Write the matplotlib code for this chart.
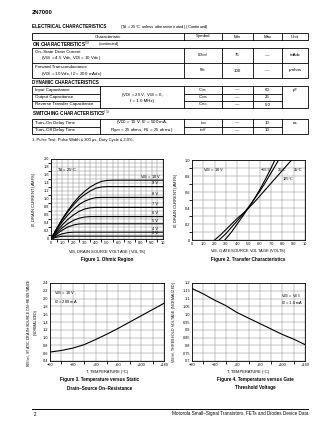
import numpy as np
import matplotlib.pyplot as plt

plt.rcParams['font.family'] = ['Liberation Sans', 'DejaVu Sans']
plt.rcParams['axes.unicode_minus'] = False

W, H = 336, 434

# ---- table data ----
col_heads = ['Characteristic', 'Symbol', 'Min', 'Max', 'Unit']
on_names = [('On–State Drain Current', '(V$_{GS}$ = 4.5 Vdc, V$_{DS}$ = 10 Vdc)'),
            ('Forward Transconductance', '(V$_{DS}$ = 10 Vdc, I$_D$ = 200 mAdc)')]
on_symbols = ['I$_{D(on)}$', 'g$_{fs}$']
on_min = ['75', '100']
on_max = ['—', '—']
on_units = ['mAdc', 'μmhos']

dyn_names = ['Input Capacitance', 'Output Capacitance', 'Reverse Transfer Capacitance']
dyn_cond = '(V$_{DS}$ = 25 V, V$_{GS}$ = 0,\nf = 1.0 MHz)'
dyn_symbols = ['C$_{iss}$', 'C$_{oss}$', 'C$_{rss}$']
dyn_min = ['—', '—', '—']
dyn_max = ['60', '25', '5.0']
dyn_unit = 'pF'

sw_names = ['Turn–On Delay Time', 'Turn–Off Delay Time']
sw_cond = '(V$_{DD}$ = 15 V, I$_D$ = 500 mA,\nR$_{gen}$ = 25 ohms, R$_L$ = 25 ohms)'
sw_symbols = ['t$_{on}$', 't$_{off}$']
sw_min = ['—', '—']
sw_max = ['10', '10']
sw_unit = 'ns'

# ---- figure 1: ohmic region ----
vds = [0, 0.5, 1, 1.5, 2, 2.5, 3, 3.5, 4, 4.5, 5, 5.5, 10]
id_10v = [0, .26, .50, .71, .90, 1.06, 1.19, 1.30, 1.38, 1.44, 1.465, 1.47, 1.47]
id_9v = [0, .25, .48, .68, .85, 1.0, 1.11, 1.20, 1.27, 1.30, 1.31, 1.31, 1.31]
id_8v = [0, .23, .43, .60, .74, .86, .945, 1.0, 1.035, 1.04, 1.04, 1.04, 1.04]
id_7v = [0, .19, .35, .49, .60, .69, .75, .78, .79, .79, .79, .79, .79]
id_6v = [0, .15, .28, .385, .465, .52, .55, .56, .56, .56, .56, .56, .56]
id_5v = [0, .12, .22, .30, .35, .376, .38, .38, .38, .38, .38, .38, .38]
id_4v = [0, .075, .13, .16, .17, .17, .17, .17, .17, .17, .17, .17, .17]
id_3v = [0, .046, .068, .07, .07, .07, .07, .07, .07, .07, .07, .07, .07]
vgs_labels = ['V$_{GS}$ = 10 V', '9 V', '8 V', '7 V', '6 V', '5 V', '4 V', '3 V']

# ---- figure 2: transfer characteristics ----
vgs_m55 = [2.9, 3.5, 4.0, 4.5, 5.0, 5.5, 6.0, 6.5, 7.0, 7.5]
id_m55 = [0, .10, .20, .30, .40, .51, .63, .76, .90, 1.05]
vgs_25 = [2.4, 3.0, 3.5, 4.0, 4.5, 5.0, 5.5, 6.0, 6.5, 7.0, 7.5, 8.0]
id_25 = [0, .08, .16, .24, .32, .41, .51, .61, .72, .84, .96, 1.08]
vgs_125 = [2.0, 2.5, 3.0, 3.5, 4.0, 4.5, 5.0, 5.5, 6.0, 6.5, 7.0, 7.5, 8.0, 8.5, 9.0]
id_125 = [0, .06, .13, .20, .27, .33, .40, .47, .55, .63, .71, .79, .87, .95, 1.03]

# ---- figures 3 and 4: temperature ----
temp = [-60, -40, -20, 0, 20, 40, 60, 80, 100, 120, 140]
rds_norm = [0.63, 0.67, 0.73, 0.82, 0.95, 1.09, 1.24, 1.40, 1.56, 1.72, 1.88]
vth_norm = [1.165, 1.13, 1.09, 1.055, 1.01, 0.975, 0.94, 0.905, 0.87, 0.84, 0.805]
temp_ticks = [-60, -20, 20, 60, 100, 140]
temp_labels = ['−60', '−20', '+20', '+60', '+100', '+140']

fig = plt.figure(figsize=(W / 100, H / 100), dpi=100)
fs = 3.2
lw_box = 0.6


def rect(x0, y0, x1, y1):
    return [x0 / W, 1 - y1 / H, (x1 - x0) / W, (y1 - y0) / H]


# page overlay in pixel units
pg = fig.add_axes([0, 0, 1, 1])
pg.set_xlim(0, W)
pg.set_ylim(H, 0)
pg.axis('off')


def box(x0, y0, x1, y1):
    pg.add_patch(plt.Rectangle((x0, y0), x1 - x0, y1 - y0, fill=False, lw=lw_box, color='black'))


def txt(x, y, s, ha='left', size=fs, **kw):
    pg.text(x, y, s, ha=ha, va='center', fontsize=size, **kw)


cols = [32, 184, 222, 253, 282, 308]
cx = [(cols[i] + cols[i + 1]) / 2 for i in range(5)]
cond_x = 100

txt(32, 13, '2N7000', size=4.2, weight='bold')
txt(32, 27, 'ELECTRICAL CHARACTERISTICS', size=3.3, weight='bold')
txt(120, 27, '(T$_A$ = 25°C unless otherwise noted) (Continued)', size=3.0)

# header row
box(cols[0], 33, cols[-1], 40)
for c in cols[1:-1]:
    pg.plot([c, c], [33, 40], color='black', lw=lw_box)
for i, h in enumerate(col_heads):
    txt(cx[i], 36.5, h, ha='center')

# ON characteristics
txt(32, 44, 'ON CHARACTERISTICS$^{(1)}$', size=3.3, weight='bold')
txt(99, 44, '(continued)', size=3.0)
box(cols[0], 48, cols[-1], 78)
pg.plot([cols[0], cols[-1]], [63, 63], color='black', lw=lw_box)
for c in cols[1:-1]:
    pg.plot([c, c], [48, 78], color='black', lw=lw_box)
for i, (y0, y1) in enumerate([(48, 63), (63, 78)]):
    txt(35, y0 + 4, on_names[i][0])
    txt(41, y0 + 10.5, on_names[i][1])
    ym = (y0 + y1) / 2
    txt(cx[1], ym, on_symbols[i], ha='center')
    txt(cx[2], ym, on_min[i], ha='center')
    txt(cx[3], ym, on_max[i], ha='center')
    txt(cx[4], ym, on_units[i], ha='center')

# dynamic
txt(32, 82, 'DYNAMIC CHARACTERISTICS', size=3.3, weight='bold')
dy = [86, 93.5, 101, 108]
box(cols[0], dy[0], cols[-1], dy[-1])
for c in [cond_x] + cols[1:-1]:
    pg.plot([c, c], [dy[0], dy[-1]], color='black', lw=lw_box)
for y in dy[1:-1]:
    pg.plot([cols[0], cond_x], [y, y], color='black', lw=lw_box)
    pg.plot([cols[1], cols[4]], [y, y], color='black', lw=lw_box)
for i in range(3):
    ym = (dy[i] + dy[i + 1]) / 2
    txt(35, ym, dyn_names[i])
    txt(cx[1], ym, dyn_symbols[i], ha='center')
    txt(cx[2], ym, dyn_min[i], ha='center')
    txt(cx[3], ym, dyn_max[i], ha='center')
txt((cond_x + cols[1]) / 2, 97, dyn_cond, ha='center', linespacing=1.0)
txt(cx[4], 90, dyn_unit, ha='center')

# switching
txt(32, 113, 'SWITCHING CHARACTERISTICS$^{(1)}$', size=3.3, weight='bold')
sy = [119, 126.5, 134]
box(cols[0], sy[0], cols[-1], sy[-1])
for c in [cond_x] + cols[1:-1]:
    pg.plot([c, c], [sy[0], sy[-1]], color='black', lw=lw_box)
pg.plot([cols[0], cond_x], [sy[1], sy[1]], color='black', lw=lw_box)
pg.plot([cols[1], cols[4]], [sy[1], sy[1]], color='black', lw=lw_box)
for i in range(2):
    ym = (sy[i] + sy[i + 1]) / 2
    txt(35, ym, sw_names[i])
    txt(cx[1], ym, sw_symbols[i], ha='center')
    txt(cx[2], ym, sw_min[i], ha='center')
    txt(cx[3], ym, sw_max[i], ha='center')
txt((cond_x + cols[1]) / 2, 126.5, sw_cond, ha='center', linespacing=1.0)
txt(cx[4], 123, sw_unit, ha='center')
txt(32, 140, '1. Pulse Test: Pulse Width ≤ 300 μs, Duty Cycle ≤ 2.0%.', size=3.0)


def style(ax):
    ax.tick_params(length=0, pad=1.2, labelsize=2.8)
    ax.grid(True, which='both', color='#888888', lw=0.35)
    ax.set_axisbelow(True)
    for s in ax.spines.values():
        s.set_linewidth(0.6)


# figure 1
ax1 = fig.add_axes(rect(51, 159, 163, 239))
for idv in [id_10v, id_9v, id_8v, id_7v, id_6v, id_5v, id_4v, id_3v]:
    ax1.plot(vds, idv, color='black', lw=0.8)
for k, idv in enumerate([id_10v, id_9v, id_8v, id_7v, id_6v, id_5v, id_4v, id_3v]):
    ax1.text(8.9 if k == 0 else 9.3, idv[-1] + 0.08, vgs_labels[k], ha='center', va='center', fontsize=2.9)
ax1.set_xlim(0, 10)
ax1.set_ylim(0, 2.0)
ax1.set_xticks(np.arange(0, 10.1, 1))
ax1.set_xticklabels(['0', '1.0', '2.0', '3.0', '4.0', '5.0', '6.0', '7.0', '8.0', '9.0', '10'])
ax1.set_xticks(np.arange(0, 10.1, 0.5), minor=True)
ax1.set_yticks(np.arange(0, 2.01, 0.2))
ax1.set_yticklabels(['0'] + ['%.1f' % v for v in np.arange(0.2, 2.01, 0.2)])
ax1.set_yticks(np.arange(0, 2.01, 0.1), minor=True)
ax1.text(0.5, 1.72, 'T$_A$ = 25°C', fontsize=2.9, va='center')
ax1.set_xlabel('V$_{DS}$, DRAIN SOURCE VOLTAGE (VOLTS)', fontsize=2.9, labelpad=1.2)
ax1.set_ylabel('I$_D$, DRAIN CURRENT (AMPS)', fontsize=2.9)
ax1.yaxis.set_label_coords(-0.115, 0.5)
style(ax1)
txt(107, 260, 'Figure 1. Ohmic Region', ha='center', size=3.3, weight='bold')

# figure 2
ax2 = fig.add_axes(rect(192, 160, 305, 240))
ax2.plot(vgs_m55, id_m55, color='black', lw=0.8)
ax2.plot(vgs_25, id_25, color='black', lw=0.8)
ax2.plot(vgs_125, id_125, color='black', lw=0.8)
ax2.set_xlim(0, 10)
ax2.set_ylim(0, 1.0)
ax2.set_xticks(np.arange(0, 10.1, 1))
ax2.set_xticklabels(['0', '1.0', '2.0', '3.0', '4.0', '5.0', '6.0', '7.0', '8.0', '9.0', '10'])
ax2.set_yticks(np.arange(0, 1.01, 0.2))
ax2.set_yticklabels(['0', '0.2', '0.4', '0.6', '0.8', '1.0'])
ax2.set_yticks(np.arange(0, 1.01, 0.1), minor=True)
ax2.text(1.0, 0.875, 'V$_{DS}$ = 10 V', fontsize=2.9, va='center')
ax2.text(6.1, 0.875, '−55°C', fontsize=2.7, va='center')
ax2.text(7.6, 0.88, '25°C', fontsize=2.7, va='center')
ax2.text(9.0, 0.875, '25°C', fontsize=2.7, va='center')
ax2.text(8.0, 0.76, '125°C', fontsize=2.7, va='center')
ax2.set_xlabel('V$_{GS}$, GATE SOURCE VOLTAGE (VOLTS)', fontsize=2.9, labelpad=1.2)
ax2.set_ylabel('I$_D$, DRAIN CURRENT (AMPS)', fontsize=2.9)
ax2.yaxis.set_label_coords(-0.11, 0.5)
style(ax2)
txt(248, 260, 'Figure 2. Transfer Characteristics', ha='center', size=3.3, weight='bold')

# figure 3
ax3 = fig.add_axes(rect(50, 283, 164, 361))
ax3.plot(temp, rds_norm, color='black', lw=0.8)
ax3.set_xlim(-60, 140)
ax3.set_ylim(0.4, 2.4)
ax3.set_xticks(temp_ticks)
ax3.set_xticklabels(temp_labels)
ax3.set_xticks(np.arange(-60, 141, 20), minor=True)
ax3.set_yticks(np.arange(0.4, 2.41, 0.2))
ax3.set_yticklabels(['%.1f' % v for v in np.arange(0.4, 2.41, 0.2)])
ax3.text(-53, 2.13, 'V$_{GS}$ = 10 V', fontsize=2.9, va='center')
ax3.text(-53, 1.91, 'I$_D$ = 200 mA', fontsize=2.9, va='center')
ax3.set_xlabel('T, TEMPERATURE (°C)', fontsize=2.9, labelpad=0.8)
ax3.set_ylabel('R$_{DS(on)}$, STATIC DRAIN–SOURCE ON–RESISTANCE\n(NORMALIZED)', fontsize=2.6, linespacing=1.0)
ax3.yaxis.set_label_coords(-0.11, 0.5)
style(ax3)
txt(100, 379, 'Figure 3. Temperature versus Static', ha='center', size=3.3, weight='bold')
txt(100, 388, 'Drain–Source On–Resistance', ha='center', size=3.3, weight='bold')

# figure 4
ax4 = fig.add_axes(rect(192, 283, 305, 361))
ax4.plot(temp, vth_norm, color='black', lw=0.8)
ax4.set_xlim(-60, 140)
ax4.set_ylim(0.7, 1.2)
ax4.set_xticks(temp_ticks)
ax4.set_xticklabels(temp_labels)
ax4.set_xticks(np.arange(-60, 141, 20), minor=True)
ax4.set_yticks(np.arange(0.7, 1.201, 0.05))
ax4.set_yticklabels(['0.7', '0.75', '0.8', '0.85', '0.9', '0.95', '1.0', '1.05', '1.1', '1.15', '1.2'])
ax4.text(98, 1.114, 'V$_{DS}$ = V$_{GS}$', fontsize=2.9, va='center')
ax4.text(98, 1.072, 'I$_D$ = 1.0 mA', fontsize=2.9, va='center')
ax4.set_xlabel('T, TEMPERATURE (°C)', fontsize=2.9, labelpad=0.8)
ax4.set_ylabel('V$_{GS(th)}$, THRESHOLD VOLTAGE (NORMALIZED)', fontsize=2.6)
ax4.yaxis.set_label_coords(-0.12, 0.5)
style(ax4)
txt(255, 379, 'Figure 4. Temperature versus Gate', ha='center', size=3.3, weight='bold')
txt(255, 388, 'Threshold Voltage', ha='center', size=3.3, weight='bold')

# footer
pg.plot([32, 308], [409, 409], color='black', lw=0.7)
txt(34, 414, '2', size=3.3)
txt(308, 414, 'Motorola Small–Signal Transistors, FETs and Diodes Device Data', ha='right', size=3.3)

fig.savefig('out.png', dpi=100, facecolor='white')
